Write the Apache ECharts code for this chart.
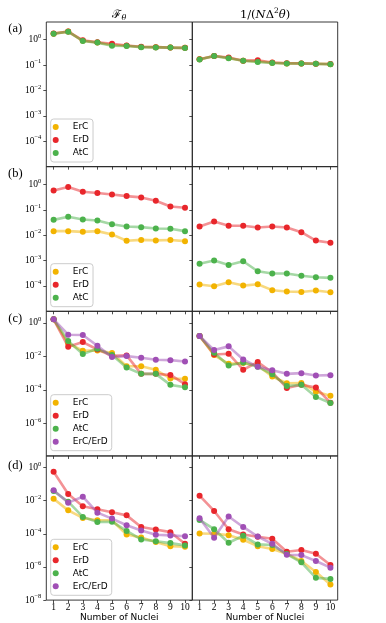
<!DOCTYPE html>
<html><head><meta charset="utf-8">
<script src="https://cdn.jsdelivr.net/npm/echarts@6/dist/echarts.min.js"></script>
<style>html,body{margin:0;padding:0;background:#fff}#c{width:386px;height:623px}</style>
</head><body><div id="c"></div>
<script>
// ---------- data ----------
const categories = ['1','2','3','4','5','6','7','8','9','10'];
const seriesNames = ['ErC','ErD','AtC','ErC/ErD'];
const seriesColors = ['#f2b300','#e8262b','#4cb24c','#a04fb5'];
const colTitleLeft = 'ℱ{sub|θ}';
const colTitleRight = '1/({i|N}Δ{sup|2}{i|θ})';
const panelLabels = ['(a)','(b)','(c)','(d)'];
const xAxisName = 'Number of Nuclei';
const yTicksAB = [1, 1e-1, 1e-2, 1e-3, 1e-4];
const yTicksC = [1, 1e-2, 1e-4, 1e-6];
const yTicksD = [1, 1e-2, 1e-4, 1e-6, 1e-8];

// (a) F_theta
const aL_ErC = [1.74, 2.09, 0.91, 0.78, 0.62, 0.58, 0.52, 0.51, 0.49, 0.48];
const aL_ErD = [1.76, 2.10, 0.95, 0.79, 0.69, 0.59, 0.53, 0.51, 0.49, 0.48];
const aL_AtC = [1.72, 2.07, 0.89, 0.77, 0.58, 0.57, 0.51, 0.50, 0.49, 0.47];
// (a) 1/(N d^2 theta)
const aR_ErC = [0.169, 0.229, 0.19, 0.149, 0.14, 0.124, 0.117, 0.117, 0.113, 0.109];
const aR_ErD = [0.170, 0.230, 0.20, 0.150, 0.154, 0.126, 0.118, 0.117, 0.113, 0.110];
const aR_AtC = [0.168, 0.228, 0.185, 0.148, 0.132, 0.122, 0.116, 0.116, 0.112, 0.108];
// (b)
const bL_ErC = [0.0144, 0.0144, 0.0135, 0.0144, 0.0107, 0.0060, 0.0065, 0.0062, 0.0064, 0.0058];
const bL_ErD = [0.58, 0.785, 0.51, 0.455, 0.40, 0.346, 0.307, 0.226, 0.135, 0.12];
const bL_AtC = [0.040, 0.053, 0.0416, 0.038, 0.027, 0.022, 0.0207, 0.0183, 0.0178, 0.0144];
const bR_ErC = [1.13e-4, 9.7e-5, 1.4e-4, 1.03e-4, 1.17e-4, 6.8e-5, 6.0e-5, 5.8e-5, 6.6e-5, 5.6e-5];
const bR_ErD = [0.022, 0.0347, 0.0234, 0.0234, 0.020, 0.022, 0.020, 0.0131, 0.0061, 0.0050];
const bR_AtC = [7.4e-4, 1.0e-3, 6.7e-4, 9.4e-4, 3.8e-4, 3.1e-4, 3.1e-4, 2.5e-4, 2.2e-4, 2.08e-4];
// (c)
const cL_ErC = [1.66, 0.06, 0.022, 0.023, 0.016, 0.0026, 0.0026, 0.0016, 4.8e-4, 4.6e-4];
const cL_ErD = [1.66, 0.038, 0.072, 0.026, 0.011, 0.0115, 9.1e-4, 9.1e-4, 7.8e-4, 2.2e-4];
const cL_AtC = [1.66, 0.083, 0.0138, 0.029, 0.012, 0.0022, 9.1e-4, 9.1e-4, 2.0e-4, 1.45e-4];
const cL_Mix = [1.66, 0.2, 0.19, 0.044, 0.0091, 0.0105, 0.0083, 0.0063, 0.006, 0.005];
const cR_ErC = [0.166, 0.012, 0.0036, 0.004, 0.0029, 6.3e-4, 2.5e-4, 2.6e-4, 7.8e-5, 4.4e-5];
const cR_ErD = [0.166, 0.013, 0.0145, 0.0016, 0.0046, 0.0011, 1.3e-4, 2.0e-4, 1.4e-4, 1.7e-5];
const cR_AtC = [0.166, 0.0166, 0.0029, 0.0044, 0.0024, 8.7e-4, 1.7e-4, 2.0e-4, 3.8e-5, 1.66e-5];
const cR_Mix = [0.166, 0.024, 0.04, 0.0066, 0.0024, 0.0015, 9.1e-4, 1.0e-3, 7.2e-4, 7.6e-4];
// (d)
const dL_ErC = [0.013, 0.0026, 9.1e-4, 6.6e-4, 6.6e-4, 9.1e-5, 6.0e-5, 3.2e-5, 1.8e-5, 1.66e-5];
const dL_ErD = [0.55, 0.025, 0.0046, 0.003, 0.002, 0.0013, 2.6e-4, 1.8e-4, 1.26e-4, 2.5e-5];
const dL_AtC = [0.038, 0.0087, 1.05e-3, 5.2e-4, 5.4e-4, 1.5e-4, 4.6e-5, 3.6e-5, 2.75e-5, 2.0e-5];
const dL_Mix = [0.042, 0.0076, 0.0174, 0.0019, 8.3e-4, 3.3e-4, 1.6e-4, 8.7e-5, 8.0e-5, 7.2e-5];
const dR_ErC = [1.05e-4, 1.0e-4, 8.3e-5, 4.4e-5, 1.8e-5, 1.2e-5, 6.3e-6, 2.3e-6, 5.0e-7, 8.7e-8];
const dR_ErD = [0.02, 0.0024, 1.9e-4, 9.1e-5, 6.6e-5, 5.0e-5, 8.3e-6, 1.05e-5, 6.3e-6, 1.3e-6];
const dR_AtC = [6.9e-4, 1.9e-4, 2.9e-5, 7.6e-5, 2.3e-5, 2.1e-5, 6.0e-6, 1.9e-6, 2.2e-7, 1.9e-7];
const dR_Mix = [8.7e-4, 5.8e-5, 1.1e-3, 2.6e-4, 6.9e-5, 2.5e-5, 5.5e-6, 5.2e-6, 2.3e-6, 9.1e-7];

// ---------- layout ----------
const panels = [
  {row:0, col:0, data:[aL_ErC, aL_ErD, aL_AtC]},
  {row:0, col:1, data:[aR_ErC, aR_ErD, aR_AtC]},
  {row:1, col:0, data:[bL_ErC, bL_ErD, bL_AtC]},
  {row:1, col:1, data:[bR_ErC, bR_ErD, bR_AtC]},
  {row:2, col:0, data:[cL_ErC, cL_ErD, cL_AtC, cL_Mix]},
  {row:2, col:1, data:[cR_ErC, cR_ErD, cR_AtC, cR_Mix]},
  {row:3, col:0, data:[dL_ErC, dL_ErD, dL_AtC, dL_Mix]},
  {row:3, col:1, data:[dR_ErC, dR_ErD, dR_AtC, dR_Mix]}
];
const rowTop = 22, rowH = 144.65;
const colLeft = [46.3, 192.3], colW = [146, 145.4];
const yMin = [1e-5, 1e-5, Math.pow(10,-7.95), 1e-8];
const yMax = 5;
const yTicks = [yTicksAB, yTicksAB, yTicksC, yTicksD];
const legendTop = [119, 263.7, 394.7, 539.3];

function fmtY(v) {
  const e = Math.round(Math.log10(v));
  return '10{sup|' + (e < 0 ? '\u2212' + (-e) : e) + '}';
}

const grid = [], xAxis = [], yAxis = [], series = [], legend = [];
panels.forEach((p, i) => {
  grid.push({left: colLeft[p.col], width: colW[p.col], top: rowTop + p.row*rowH, height: rowH,
    show: true, borderColor: '#222', borderWidth: 0.9, backgroundColor: 'transparent', containLabel: false});
  const last = p.row === 3;
  xAxis.push({type: 'category', gridIndex: i, data: categories, boundaryGap: true,
    axisLine: {show: false}, splitLine: {show: false},
    axisTick: {show: true, alignWithLabel: true, length: 3, lineStyle: {color: '#222', width: 0.8}},
    axisLabel: {show: last, margin: 2, fontFamily: 'Liberation Serif', fontSize: 9.5, color: '#000'},
    name: last ? xAxisName : '', nameLocation: 'middle', nameGap: 12,
    nameTextStyle: {fontFamily: 'DejaVu Sans', fontSize: 9, color: '#000'}});
  yAxis.push({type: 'log', logBase: 10, gridIndex: i, min: yMin[p.row], max: yMax,
    axisLine: {show: false}, splitLine: {show: false}, minorTick: {show: false},
    axisTick: {show: true, length: 3, customValues: yTicks[p.row], lineStyle: {color: '#222', width: 0.8}},
    axisLabel: {show: p.col === 0, margin: 5, customValues: yTicks[p.row], formatter: fmtY,
      fontFamily: 'Liberation Serif', fontSize: 9.5, color: '#000',
      rich: {sup: {fontSize: 6.5, fontFamily: 'Liberation Serif', padding: [0,0,7,0], color: '#000'}}}});
  p.data.forEach((d, k) => {
    series.push({type: 'line', name: seriesNames[k], xAxisIndex: i, yAxisIndex: i, data: d,
      symbol: 'circle', symbolSize: 6, showSymbol: true, animation: false,
      itemStyle: {color: seriesColors[k], opacity: 1},
      lineStyle: {color: seriesColors[k], width: 2.6, opacity: 0.5}, z: 2 + k});
  });
  if (p.col === 0) {
    legend.push({orient: 'vertical', left: 50.7, top: legendTop[p.row], icon: 'circle',
      itemWidth: 24, itemHeight: 6, itemGap: 2, padding: [2.5, 4, 3.5, 2],
      backgroundColor: 'rgba(255,255,255,0.85)', borderColor: '#cccccc', borderWidth: 1, borderRadius: 3,
      selectedMode: false,
      textStyle: {fontFamily: 'DejaVu Sans', fontSize: 9, color: '#000', lineHeight: 11},
      data: seriesNames.slice(0, p.data.length)});
  }
});

const graphic = [
  {type: 'text', x: 119.3, y: 15, style: {text: colTitleLeft, fontFamily: 'DejaVu Serif', fontSize: 11.5, fill: '#000', align: 'center', verticalAlign: 'middle',
    rich: {sub: {fontSize: 8, fontStyle: 'italic', fontFamily: 'DejaVu Serif', padding: [6,0,0,0]}}}},
  {type: 'text', x: 265, y: 15, style: {text: colTitleRight, fontFamily: 'DejaVu Serif', fontSize: 11.5, fill: '#000', align: 'center', verticalAlign: 'middle',
    rich: {i: {fontStyle: 'italic', fontFamily: 'DejaVu Serif', fontSize: 11.5}, sup: {fontSize: 7.5, fontFamily: 'DejaVu Serif', padding: [0,0,7,0]}}}}
];
const labelY = [29, 174, 319, 466];
panelLabels.forEach((t, r) => graphic.push({type: 'text', x: 15.3, y: labelY[r],
  style: {text: t, fontFamily: 'Liberation Serif', fontSize: 12.5, fill: '#000', align: 'center', verticalAlign: 'middle'}}));

const chart = echarts.init(document.getElementById('c'), null, {renderer: 'canvas'});
chart.setOption({animation: false, backgroundColor: '#fff', grid, xAxis, yAxis, series, legend, graphic});
</script></body></html>
